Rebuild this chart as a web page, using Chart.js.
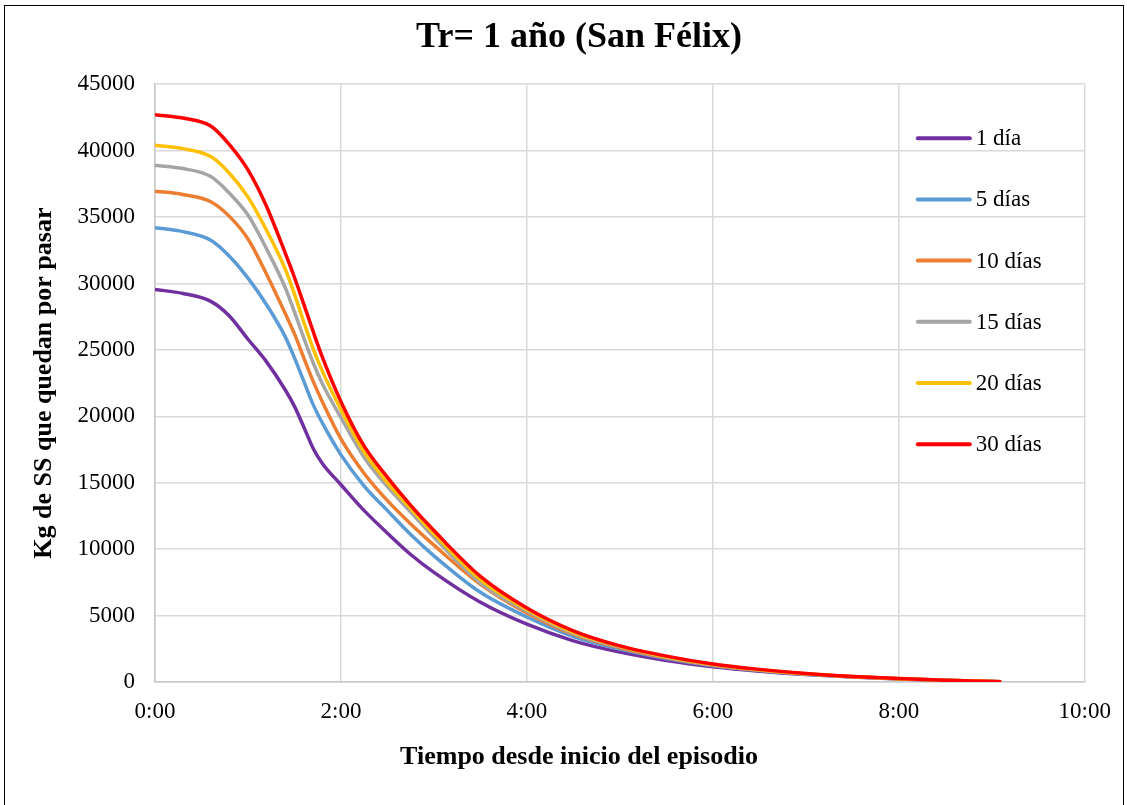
<!DOCTYPE html>
<html>
<head>
<meta charset="utf-8">
<script src="https://cdn.jsdelivr.net/npm/chart.js@4.4.1/dist/chart.umd.min.js"></script>
<style>
  html, body { margin: 0; padding: 0; background: #fff; overflow: hidden; }
  #frame { position: absolute; left: 4px; top: 5px; width: 1120px; height: 830px; border: 1.5px solid #000; box-sizing: border-box; }
  #wrap { position: absolute; left: 0; top: 0; width: 1127px; height: 805px; }
</style>
</head>
<body>
<div id="frame"></div>
<div id="wrap"><canvas id="ssChart"></canvas></div>
<script>
// horas desde inicio del episodio
const tiempos = [0, 0.3, 0.6, 0.8, 1.0, 1.2, 1.4, 1.5, 1.6, 1.7, 1.8, 2.0, 2.25, 2.5, 2.75, 3.0, 3.5, 4.0, 4.5, 5.0, 5.5, 6.0, 6.5, 7.0, 7.5, 8.0, 8.5, 9.1];

const dia1   = [29550, 29250, 28650, 27550, 25800, 24100, 22000, 20750, 19200, 17600, 16450, 14850, 12900, 11200, 9600, 8250, 6000, 4350, 3100, 2250, 1620, 1150, 810, 560, 375, 230, 120, 20];
const dias5  = [34200, 33900, 33250, 32050, 30400, 28400, 26000, 24400, 22650, 20900, 19500, 17100, 14750, 12900, 11100, 9500, 6750, 4890, 3420, 2480, 1770, 1230, 860, 590, 395, 240, 125, 20];
const dias10 = [36950, 36700, 36150, 35050, 33350, 30700, 27750, 26200, 24400, 22650, 21100, 18300, 15700, 13650, 11900, 10300, 7350, 5190, 3580, 2580, 1820, 1260, 880, 600, 400, 245, 128, 20];
const dias15 = [38900, 38650, 38050, 36800, 35150, 32600, 29700, 27850, 25900, 24050, 22450, 19900, 16900, 14700, 12800, 10900, 7450, 5320, 3650, 2640, 1860, 1290, 905, 610, 405, 248, 130, 20];
const dias20 = [40400, 40150, 39550, 38300, 36500, 34000, 31100, 29200, 27100, 25100, 23400, 20500, 17300, 15000, 13050, 11150, 7700, 5450, 3730, 2690, 1900, 1320, 925, 620, 412, 250, 132, 20];
const dias30 = [42700, 42450, 41850, 40450, 38550, 35800, 32300, 30450, 28450, 26400, 24450, 21100, 17750, 15400, 13300, 11400, 7950, 5570, 3850, 2720, 1950, 1360, 950, 640, 420, 260, 140, 20];

const series = ['1 día', '5 días', '10 días', '15 días', '20 días', '30 días'];
const colores = ['#7030a0', '#5b9bd5', '#ed7d31', '#a5a5a5', '#ffc000', '#ff0000'];
const valores = [dia1, dias5, dias10, dias15, dias20, dias30];

const yTicks = { min: 0, max: 45000, step: 5000 };
const xTicks = { min: 0, max: 10, step: 2 };

const serif = "'Liberation Serif', 'Times New Roman', serif";
Chart.defaults.color = '#000';
Chart.defaults.font.family = serif;

const datasets = series.map((name, i) => ({
    label: name,
    data: tiempos.map((t, k) => ({ x: t, y: valores[i][k] })),
    borderColor: colores[i],
    backgroundColor: colores[i],
    borderWidth: 3.5,
    pointRadius: 0,
    cubicInterpolationMode: 'monotone',
    order: series.length - 1 - i,
}));

// leyenda dentro del area de trazado, a la derecha
const innerLegend = {
    id: 'innerLegend',
    afterDatasetsDraw(chart) {
        const { ctx, chartArea } = chart;
        ctx.save();
        ctx.font = '23px ' + serif;
        ctx.textBaseline = 'middle';
        ctx.lineCap = 'round';
        chart.data.datasets.forEach((ds, i) => {
            const y = chartArea.top + 54 + i * 61.2;
            const x0 = chartArea.right - 167;
            ctx.strokeStyle = ds.borderColor;
            ctx.lineWidth = 4;
            ctx.beginPath();
            ctx.moveTo(x0, y);
            ctx.lineTo(x0 + 52, y);
            ctx.stroke();
            ctx.fillStyle = '#000';
            ctx.fillText(ds.label, x0 + 58, y + 1);
        });
        ctx.restore();
    }
};

const config = {
    type: 'line',
    data: { datasets: datasets },
    options: {
        responsive: true,
        maintainAspectRatio: false,
        animation: false,
        layout: { padding: { left: 31, right: 0, top: 0, bottom: 0 } },
        plugins: {
            legend: { display: false },
            tooltip: { enabled: false },
            title: {
                display: true,
                text: 'Tr= 1 año (San Félix)',
                font: { size: 36, weight: 'bold', family: serif },
                padding: { top: 16, bottom: 25 },
            },
            // titulo del eje x, centrado en el marco como en el original
            subtitle: {
                display: true,
                position: 'bottom',
                text: 'Tiempo desde inicio del episodio',
                color: '#000',
                font: { size: 26, weight: 'bold', family: serif },
                padding: { top: 0, bottom: 32 },
            },
        },
        scales: {
            x: {
                type: 'linear',
                min: xTicks.min,
                max: xTicks.max,
                grid: { color: '#d9d9d9', lineWidth: 1.5, drawTicks: false },
                border: { color: '#c8c8c8', width: 1.5 },
                ticks: {
                    stepSize: xTicks.step,
                    padding: 16,
                    font: { size: 23 },
                    callback: v => v + ':00',
                },
                afterFit(s) { s.height = 59.8; },
            },
            y: {
                min: yTicks.min,
                max: yTicks.max,
                grid: { color: '#d9d9d9', lineWidth: 1.5, drawTicks: false },
                border: { color: '#c8c8c8', width: 1.5 },
                ticks: {
                    stepSize: yTicks.step,
                    padding: 20,
                    font: { size: 23 },
                    callback: v => String(v),
                },
                title: {
                    display: true,
                    text: 'Kg de SS que quedan por pasar',
                    font: { size: 26, weight: 'bold', lineHeight: 1 },
                    padding: { top: 0, bottom: 0 },
                },
                afterFit(s) { s.width = 124; },
            },
            y2: {
                position: 'right',
                display: true,
                grid: { display: false },
                border: { display: false },
                ticks: { display: false },
                afterFit(s) { s.width = 40; },
            },
        },
    },
    plugins: [innerLegend],
};

const ssChart = new Chart(document.getElementById('ssChart'), config);
</script>
</body>
</html>
